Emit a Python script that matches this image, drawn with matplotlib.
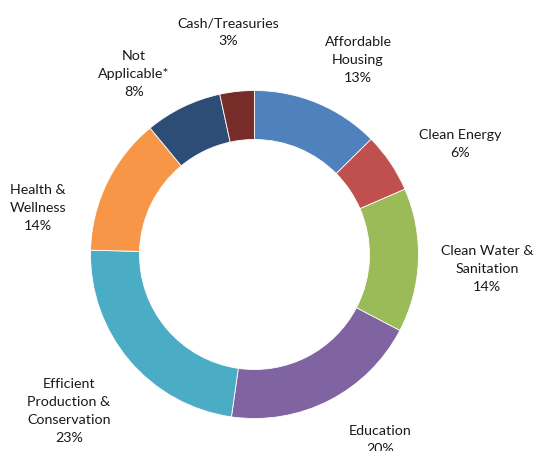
import matplotlib.pyplot as plt

categories = ['Affordable\nHousing', 'Clean Energy', 'Clean Water &\nSanitation',
              'Education', 'Efficient\nProduction &\nConservation',
              'Health &\nWellness', 'Not\nApplicable*', 'Cash/Treasuries']
shares = [12.6, 5.9, 14.2, 19.6, 23.2, 13.6, 7.6, 3.4]
colors = ['#4F81BD', '#C0504D', '#9BBB59', '#8064A2', '#4BACC6',
          '#F79646', '#2C4D75', '#772C2A']

# label centres in pixels (from top-left), same order as categories
label_pos = [(358, 60), (460, 144), (487, 269), (380, 440),
             (69, 411), (38, 208), (134, 74), (228, 32)]

W, H = 534, 451
fig = plt.figure(figsize=(W / 100, H / 100), dpi=100)
ax = fig.add_axes([0, 0, 1, 1])

ax.pie(shares, colors=colors, startangle=90, counterclock=False,
       center=(254.5, H - 254.5), radius=164,
       wedgeprops=dict(width=49, edgecolor='white', linewidth=0.6),
       frame=True)
ax.set_xlim(0, W)
ax.set_ylim(0, H)
ax.set_aspect('equal')
ax.axis('off')

for name, val, (px, py) in zip(categories, shares, label_pos):
    ax.text(px, H - py, f'{name}\n{val:.0f}%', ha='center', va='center',
            fontsize=10.3, family='Lato', color='#1a1a1a', linespacing=1.6)

fig.savefig('out.png', dpi=100)
